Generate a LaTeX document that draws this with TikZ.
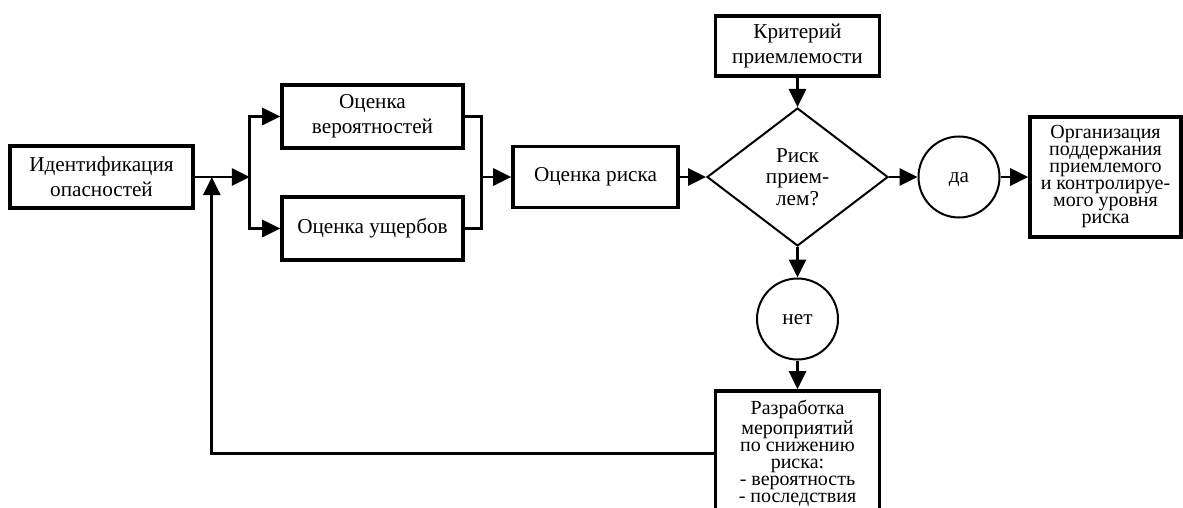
\documentclass[tikz,border=0pt]{standalone}
\usepackage{fontspec}
\setmainfont{Liberation Serif}
\usepackage{tikz}
\usetikzlibrary{shapes.geometric,positioning,arrows.meta}

\begin{document}
\begin{tikzpicture}[%
    >={Triangle[length=9pt,width=8.5pt]}, % Filled arrow heads
    line width=1.4pt,                     % Default for connecting lines
    node distance=30pt and 135pt,         % Global setup of box spacing
    ]
\tikzset{
  base/.style={draw, on grid, align=center, font=\fontsize{10.6}{12.6}\selectfont},
  proc/.style={base, rectangle, line width=1.8pt, inner sep=2pt},
  test/.style={base, diamond, line width=1pt, inner sep=0pt, minimum width=90.5pt, minimum height=69pt},
  term/.style={draw, on grid, circle, line width=1pt, inner sep=0pt, minimum size=40.5pt, text height=5pt, text depth=0pt, font=\fontsize{10.6}{12.6}\selectfont},
  tight/.style={font=\fontsize{10}{8.5}\selectfont},
}

\path [use as bounding box] (0,0) rectangle (591.5pt,-254pt);
\clip (0,0) rectangle (591.5pt,-254pt);

\node [proc, minimum width=91.5pt, minimum height=31pt] (p0) at (50.75pt,-88.5pt) {Идентификация\\опасностей};
\node [proc, minimum width=90.5pt, minimum height=31.5pt, above right=30.25pt and 135.5pt of p0] (p1) {Оценка\\вероятностей};
\node [proc, minimum width=90.5pt, minimum height=31.5pt, below=56pt of p1] (p2) {Оценка ущербов};
\node [proc, minimum width=82.5pt, minimum height=30.5pt, right=247pt of p0] (p3) {Оценка риска};
\node [test, right=101pt of p3, font=\fontsize{10.6}{10.7}\selectfont] (p4) {Риск\\прием-\\лем?};
\node [proc, minimum width=82pt, minimum height=30pt, above=65.5pt of p4] (p5) {Критерий\\приемлемости};
\node [term, right=80.75pt of p4] (p6) {да};
\node [proc, tight, minimum width=75.5pt, minimum height=60pt, right=73.25pt of p6] (p7) {Организация\\поддержания\\приемлемого\\и контролируе-\\мого уровня\\риска};
\node [term, below=71pt of p4] (p8) {нет};
\node [proc, tight, minimum width=82pt, minimum height=62.5pt, below=67.25pt of p8] (p9) {Разработка\\мероприятий\\по снижению\\риска:\\- вероятность\\- последствия};

\coordinate [right=27.5pt of p0.east] (c0);
\coordinate [right=8.5pt of p0.east] (c1);
\coordinate [left=15pt of p3.west] (c2);

\draw [->] (p0.east) -- (c0);
\draw [->] (c0) |- (p1.west);
\draw [->] (c0) |- (p2.west);
\draw (p1.east) -| (c2);
\draw (p2.east) -| (c2);
\draw [->] (c2) -- (p3.west);
\draw [->] (p3.east) -- (p4.west);
\draw [->] (p5.south) -- (p4.north);
\draw [->] (p4.east) -- (p6.west);
\draw [->] (p6.east) -- (p7.west);
\draw [->] (p4.south) -- (p8.north);
\draw [->] (p8.south) -- (p9.north);
\draw [->] (p9.west) -| (c1);

\end{tikzpicture}
\end{document}
